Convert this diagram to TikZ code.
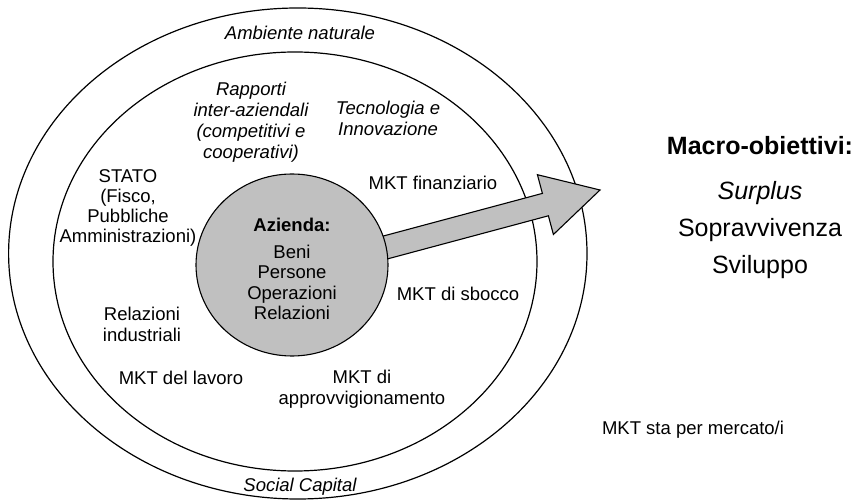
\documentclass[tikz,border=0pt]{standalone}
\usepackage{fontspec}
\setmainfont{Liberation Sans}
\usetikzlibrary{shapes.geometric}
\definecolor{azgray}{RGB}{192,192,192}
\begin{document}
\begin{tikzpicture}[x=1pt,y=-1pt,
  lbl/.style={inner sep=0pt, align=center, anchor=base, font=\fontsize{18.5}{20.5}\selectfont},
  ilbl/.style={lbl, font=\fontsize{18.5}{21}\selectfont\itshape},
  big/.style={inner sep=0pt, align=center, anchor=base, font=\fontsize{25}{37}\selectfont},
  ring/.style={draw=black, line width=1.2pt},
  fatarrow/.style={fill=azgray, draw=black, line width=1.1pt, line join=miter}]
\useasboundingbox (0,0) rectangle (855,502);
% rings
\node (outer) [ring, ellipse, minimum width=578.4pt, minimum height=491pt, inner sep=0pt] at (297.8,253.5) {};
\node (inner) [ring, ellipse, minimum width=484pt, minimum height=419pt, inner sep=0pt] at (295,261.5) {};
% arrow
\coordinate (tip) at (600,190);
\draw[fatarrow] (368.5,240.0) -- (542.4,193.4) -- (537.4,174.7) -- (tip)
  -- (553.4,234.5) -- (548.4,215.8) -- (374.5,262.4) -- cycle;
% company
\node (az) [ellipse, draw=black, line width=1.1pt, fill=azgray, minimum width=192pt, minimum height=182pt, inner sep=0pt] at (292,265) {};
% multi-line nodes are placed by the baseline of their last line
\node (azt) [lbl] at (292,320) {\textbf{Azienda:}\\[6.5pt]Beni\\Persone\\Operazioni\\Relazioni};
% labels
\node (amb) [ilbl] at (300,40) {Ambiente naturale};
\node (rap) [ilbl] at (251,159) {Rapporti\\inter-aziendali\\(competitivi e\\cooperativi)};
\node (tec) [ilbl] at (388,136) {Tecnologia e\\Innovazione};
\node (stato) [lbl, font=\fontsize{18.5}{20}\selectfont] at (128,243) {STATO\\(Fisco,\\Pubbliche\\Amministrazioni)};
\node (fin) [lbl] at (433,190) {MKT finanziario};
\node (relind) [lbl] at (142,341.5) {Relazioni\\industriali};
\node (sbocco) [lbl] at (458,301) {MKT di sbocco};
\node (lavoro) [lbl] at (181,385) {MKT del lavoro};
\node (appr) [lbl] at (362,404.5) {MKT di\\approvvigionamento};
\node (soc) [ilbl] at (300,492) {Social Capital};
% objectives
\node (macro) [big] at (760,274) {\textbf{Macro-obiettivi:}\\[8pt]\textit{Surplus}\\Sopravvivenza\\Sviluppo};
\node (note) [lbl] at (693,435) {MKT sta per mercato/i};
\end{tikzpicture}
\end{document}
